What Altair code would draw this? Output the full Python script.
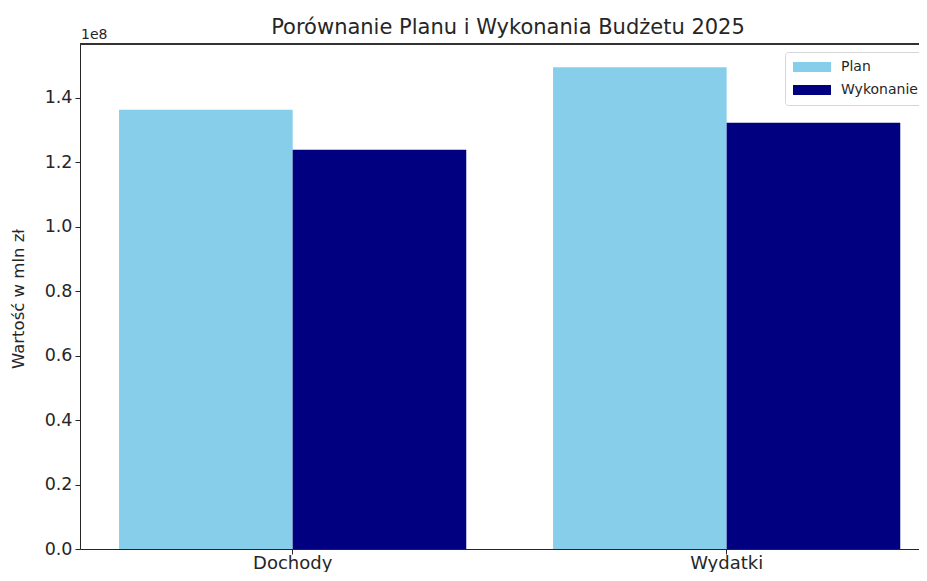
import altair as alt
import pandas as pd

categories = ["Dochody", "Wydatki"]
series = ["Plan", "Wykonanie"]
plan_values = [1.363e8, 1.495e8]
wykonanie_values = [1.239e8, 1.323e8]
colors = ["#87CEEB", "#000080"]
y_ticks = [0.0, 0.2e8, 0.4e8, 0.6e8, 0.8e8, 1.0e8, 1.2e8, 1.4e8]
title_text = "Porównanie Planu i Wykonania Budżetu 2025"
y_title = "Wartość w mln zł"
exponent_label = "1e8"

rows = []
for i, c in enumerate(categories):
    rows.append({"kategoria": c, "seria": "Plan", "wartosc": plan_values[i]})
    rows.append({"kategoria": c, "seria": "Wykonanie", "wartosc": wykonanie_values[i]})
df = pd.DataFrame(rows)

FONT = "DejaVu Sans"
TXT = "#262626"
W, H = 839, 505

bars = alt.Chart(df).mark_bar().encode(
    x=alt.X("kategoria:N", sort=categories,
            scale=alt.Scale(paddingInner=0.2, paddingOuter=0.0666, align=0.6758),
            axis=alt.Axis(title=None, labelAngle=0, labelFontSize=18, labelFont=FONT,
                          labelColor=TXT, tickColor=TXT, domainColor=TXT, tickSize=5,
                          labelPadding=0, domainWidth=1)),
    xOffset=alt.XOffset("seria:N", sort=series, scale=alt.Scale(paddingInner=0, paddingOuter=0)),
    y=alt.Y("wartosc:Q", scale=alt.Scale(domain=[0, 1.567e8], nice=False, zero=True),
            axis=alt.Axis(title=y_title, values=y_ticks,
                          labelExpr="format(datum.value/1e8, '.1f')",
                          labelFontSize=17.5, labelFont=FONT, labelColor=TXT,
                          titleFontSize=16.5, titleFont=FONT, titleColor=TXT, titleFontWeight="normal",
                          titleX=-54, titleY=H / 2 + 2, titleAngle=270, titleAlign="center",
                          titleBaseline="bottom",
                          tickColor=TXT, domainColor=TXT, tickSize=5,
                          grid=False, labelPadding=3)),
    color=alt.Color("seria:N", sort=series,
                    scale=alt.Scale(domain=series, range=colors),
                    legend=alt.Legend(title=None, orient="none", legendX=705, legendY=8,
                                      symbolType="M-1,-0.26H1V0.26H-1Z", symbolSize=1444,
                                      clipHeight=14, rowPadding=9,
                                      labelFontSize=14, labelFont=FONT, labelColor=TXT,
                                      fillColor="white", strokeColor="#d6d6d6",
                                      padding=8, cornerRadius=3, symbolStrokeWidth=0,
                                      labelOffset=10)),
)

top_rule = alt.Chart(df).mark_rule(color=TXT, strokeWidth=1).encode(
    x=alt.value(0), x2=alt.value(W), y=alt.value(0)
)

exp_text = alt.Chart(pd.DataFrame({"t": [exponent_label]})).mark_text(
    align="left", baseline="alphabetic", fontSize=14, font=FONT, color=TXT
).encode(x=alt.value(1), y=alt.value(-5), text="t:N")

title_mark = alt.Chart(pd.DataFrame({"t": [title_text]})).mark_text(
    align="center", baseline="alphabetic", fontSize=21, font=FONT, color=TXT
).encode(x=alt.value(428), y=alt.value(-10), text="t:N")

chart = alt.layer(bars, top_rule, exp_text, title_mark).properties(
    width=W, height=H,
    autosize=alt.AutoSizeParams(type="none"),
    padding={"left": 72, "top": 36, "right": 0, "bottom": 23},
).configure_view(stroke=None).configure(background="white")

chart.save("out.html", embed_options={"renderer": "svg", "actions": False})
